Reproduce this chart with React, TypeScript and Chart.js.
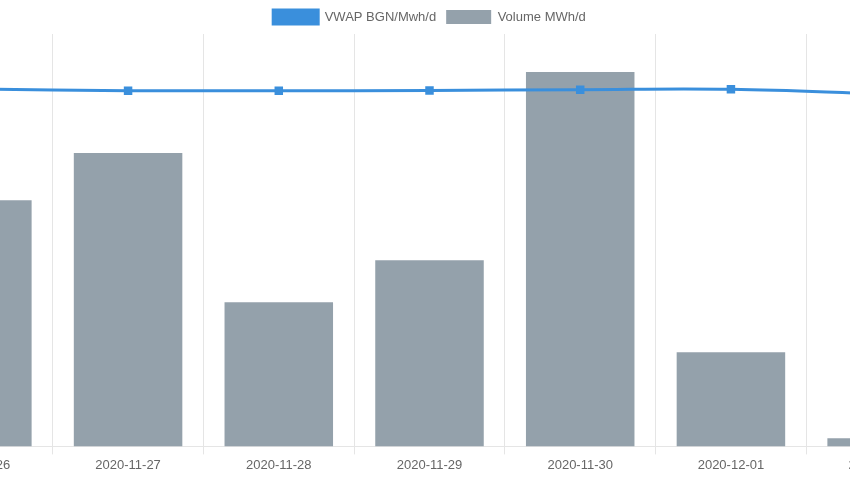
import React, { useEffect, useRef } from "react";
import { Chart, registerables } from "chart.js";

Chart.register(...registerables);

const categories = ["2020-11-26", "2020-11-27", "2020-11-28", "2020-11-29", "2020-11-30", "2020-12-01", "2020-12-02"];
const vwapValues = [86.65, 86.25, 86.24, 86.29, 86.5, 86.58, 85.44];
const volumeValues = [2388, 2845, 1398, 1806, 3631, 913, 78];

export default function App() {
  const ref = useRef<HTMLCanvasElement | null>(null);
  useEffect(() => {
    if (!ref.current) return;
    const chart = new Chart(ref.current, {
      type: "bar",
      data: {
        labels: categories,
        datasets: [
          {
            type: "line",
            label: "VWAP BGN/Mwh/d",
            data: vwapValues,
            borderColor: "#3a8fdc",
            backgroundColor: "#3a8fdc",
            borderWidth: 3,
            pointStyle: "rect",
            pointRadius: 6,
            pointBackgroundColor: "#3a8fdc",
            pointBorderWidth: 0,
            tension: 0.4,
            fill: false,
            yAxisID: "y1",
            order: 0,
          },
          {
            type: "bar",
            label: "Volume MWh/d",
            data: volumeValues,
            backgroundColor: "#94a1ab",
            yAxisID: "y",
            order: 1,
          },
        ],
      },
      options: {
        animation: false,
        responsive: true,
        maintainAspectRatio: false,
        font: { size: 13 },
        plugins: {
          legend: {
            labels: { boxWidth: 45, boxHeight: 14, font: { size: 13 }, color: "#666" },
          },
          tooltip: { enabled: false },
        },
        scales: {
          x: {
            ticks: { font: { size: 13 }, color: "#666", maxRotation: 0 },
            grid: { color: "rgba(0,0,0,0.1)" },
          },
          y: { display: false, min: 0, max: 4000 },
          y1: { display: false, min: 0, max: 100, position: "right" },
        },
      },
    });
    return () => chart.destroy();
  }, []);
  return (
    <div style={{ position: "fixed", left: 0, top: 0, width: 850, height: 480, overflow: "hidden", background: "#fff" }}>
      <div style={{ position: "absolute", left: -104, top: 0, width: 1067, height: 476 }}>
        <canvas ref={ref} />
      </div>
    </div>
  );
}
